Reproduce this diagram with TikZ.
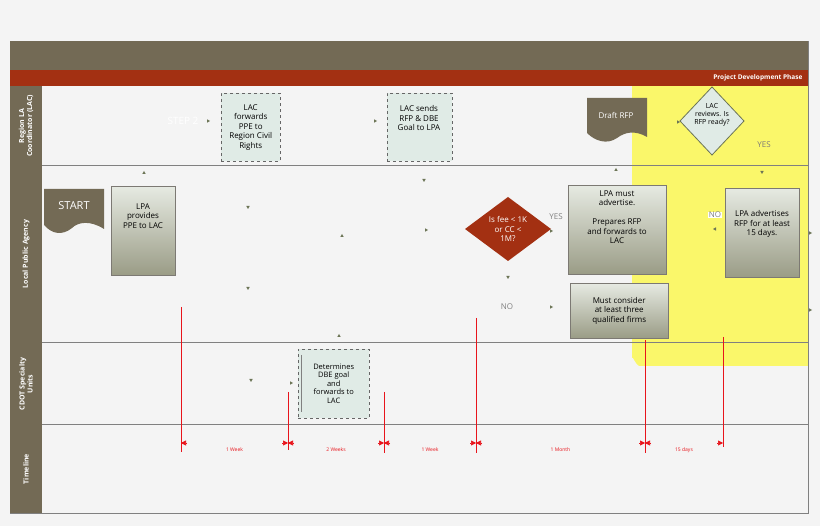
\documentclass[tikz,border=0pt]{standalone}
\usepackage{fontspec}
\setmainfont{Open Sans}
\usetikzlibrary{shapes.geometric,arrows.meta}
\definecolor{olive}{HTML}{736A55}
\definecolor{rust}{HTML}{A33012}
\definecolor{bg}{HTML}{F4F4F4}
\definecolor{yel}{HTML}{FAF76A}
\definecolor{pale}{HTML}{E0EBE6}
\definecolor{tri}{HTML}{6B7455}
\definecolor{gtop}{HTML}{E6EAE2}
\definecolor{gbot}{HTML}{9A9C86}
\definecolor{red1}{HTML}{E8141B}
\begin{document}
\begin{tikzpicture}[x=1pt,y=-1pt,font=\fontsize{8}{9.5}\selectfont,
 procbox/.style={draw=gray!70!olive,top color=gtop,bottom color=gbot,align=center,anchor=north west,inner sep=2pt},
 dashbox/.style={draw=gray!80!black,dashed,fill=pale,align=center,anchor=north west,inner sep=1pt},
 lanelbl/.style={rotate=90,text=white,font=\fontsize{7}{8}\selectfont\bfseries,align=center},
 mk/.style={fill=tri,inner sep=0pt,minimum size=5pt,regular polygon,regular polygon sides=3,scale=0.8},
 tl/.style={red1,line width=0.6pt},
 dimlbl/.style={text=red1,font=\fontsize{5}{6}\selectfont}]
\useasboundingbox (0,0) rectangle (820,526);
\fill[bg] (0,0) rectangle (820,526);
% yellow area
\fill[yel] (632,86) -- (808,86) -- (808,366) -- (640,366) to[out=180,in=90] (632,358) -- cycle;
% bands
\fill[olive] (10,41) rectangle (808,70);
\fill[rust] (10,70) rectangle (808,86);
\node[text=white,font=\fontsize{6.5}{7}\selectfont\bfseries,anchor=east] (phase) at (806,78) {Project Development Phase};
\fill[olive] (10,86) rectangle (42,514);
\draw[gray,line width=1pt] (42,166) -- (808,166) (42,343) -- (808,343) (42,425) -- (808,425);
\draw[gray,line width=1pt] (10,514) -- (808,514) (808,41) -- (808,514);
\node[lanelbl] (l1) at (26,126) {Region LA\\Coordinator (LAC)};
\node[lanelbl] (l2) at (26,254) {Local Public Agency};
\node[lanelbl] (l3) at (26,384) {CDOT Specialty\\Units};
\node[lanelbl] (l4) at (26,469) {Timeline};
% START doc
\fill[olive] (44,189) -- (104,189) -- (104,229) .. controls (90,220) and (78,222) .. (72,228) .. controls (62,236) and (52,234) .. (44,225) -- cycle;
\node[text=white,font=\fontsize{11}{12}\selectfont] (start) at (74,206) {START};
\fill[olive] (587,98) -- (647,98) -- (647,137) .. controls (635,130) and (625,132) .. (617,138) .. controls (607,145) and (595,141) .. (587,133) -- cycle;
\node[text=white] (draft) at (616,115) {Draft RFP};
\node[text=white,font=\fontsize{10}{11}\selectfont] (step) at (183,121) {STEP 2};
% boxes
\node[procbox,minimum width=64pt,minimum height=89pt] (b1) at (111,186) {};
\node[anchor=north,align=center] at (143,200) {LPA\\provides\\PPE to LAC};
\node[dashbox,minimum width=59pt,minimum height=68pt] (b2) at (221,93) {LAC\\forwards\\PPE to\\Region Civil\\Rights};
\node[dashbox,minimum width=65pt,minimum height=68pt] (b3) at (387,93) {};
\node[anchor=north,align=center] at (419,102) {LAC sends\\RFP \& DBE\\Goal to LPA};
\node[procbox,minimum width=98pt,minimum height=89pt] (b4) at (568,185) {};
\node[anchor=north,align=center] at (617,187) {LPA must\\advertise.\\[9.5pt]Prepares RFP\\and forwards to\\LAC};
\node[procbox,minimum width=98pt,minimum height=55pt] (b5) at (570,283) {Must consider\\at least three\\qualified firms};
\node[procbox,minimum width=74pt,minimum height=89pt] (b6) at (725,188) {};
\node[anchor=north,align=center] at (762,207) {LPA advertises\\RFP for at least\\15 days.};
\node[dashbox,minimum width=71pt,minimum height=69pt,font=\fontsize{7.5}{8.5}\selectfont] (b7) at (298,349) {Determines\\DBE goal\\and\\forwards to\\LAC};
\draw[gray] (301,355) -- (301,412);
% diamonds
\fill[rust] (508,197) -- (551,229) -- (508,261) -- (465,229) -- cycle;
\node[text=white,align=center] (d1) at (508,229) {Is fee < 1K\\or CC <\\1M?};
\draw[tri,fill=pale,line width=0.8pt] (712,87) -- (744,121) -- (712,155) -- (680,121) -- cycle;
\node[align=center,font=\fontsize{7}{8}\selectfont] (d2) at (712,115) {LAC\\reviews. Is\\RFP ready?};
% labels
\node[text=gray!80!olive] (y1) at (764,145) {YES};
\node[text=gray] (y2) at (556,217) {YES};
\node[text=gray] (n1) at (507,307) {NO};
\node[text=gray,fill=white,inner sep=0.5pt] (n2) at (715,215) {NO};
% markers
\foreach \x/\y/\r in {144/173/0,342/236/0,339/336/0,616/170/0,
 248/207/180,424/180/180,248/288/180,508/277/180,762/172/180,251/380/180,
 208/121/-90,375/121/-90,426/230/-90,551/231/-90,551/307/-90,678/122/-90,810/233/-90,810/310/-90,291/383/-90,
 715/229/90}
 \node[mk,rotate=\r] at (\x,\y) {};
% timeline
\draw[tl] (181,307) -- (181,452) (288,392) -- (288,450) (384,392) -- (384,453)
 (476,318) -- (476,453) (645,340) -- (645,453) (723,337) -- (723,447);
\foreach \a/\b/\t in {181/288/1 Week,288/384/2 Weeks,384/476/1 Week,476/645/1 Month,645/723/15 days}{
 \draw[tl,-{Triangle[length=5pt,width=5pt]}] (\a+6,443) -- (\a,443);
 \draw[tl,-{Triangle[length=5pt,width=5pt]}] (\b-6,443) -- (\b,443);
 \node[dimlbl] at ({(\a+\b)/2},450) {\t};
}
\end{tikzpicture}
\end{document}
